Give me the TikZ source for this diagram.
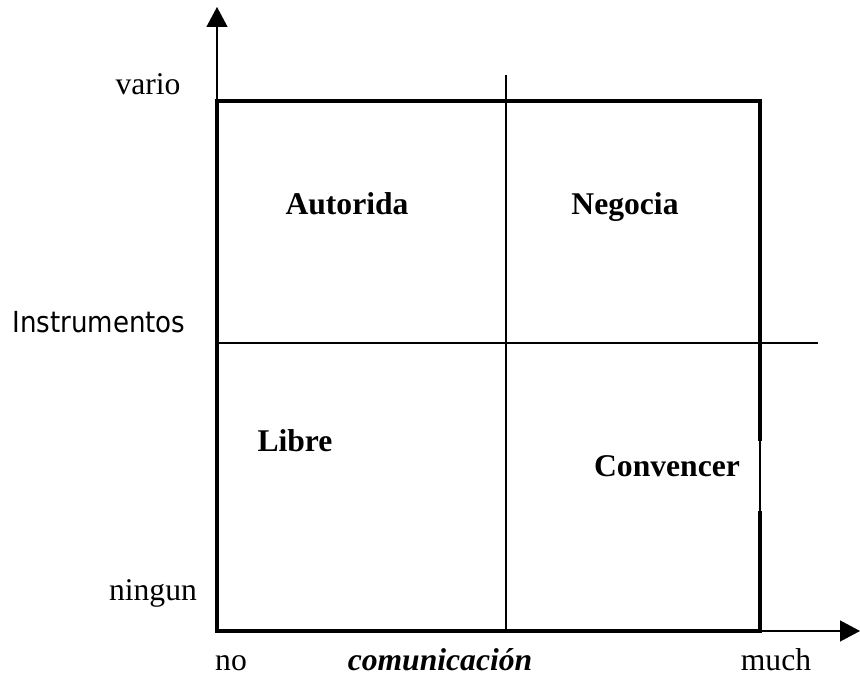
\documentclass[tikz,border=0pt]{standalone}
\usepackage{fontspec}
\setmainfont{Liberation Serif}
\newfontfamily\labelfont{DejaVu Sans Condensed}
\usetikzlibrary{arrows.meta,positioning}

\begin{document}
\begin{tikzpicture}[
    x=0.02cm, y=-0.02cm,
    axis/.style={line width=0.8pt, -{Triangle[length=0.4cm, width=0.42cm]}},
    frame/.style={line width=1.8pt, line cap=rect},
    divider/.style={line width=0.8pt},
    quadrant/.style={anchor=base, font=\bfseries\fontsize{18}{20}\selectfont},
    scale label/.style={anchor=base, font=\fontsize{18}{20}\selectfont},
    axis title/.style={anchor=base west, font=\labelfont\fontsize{16.5}{18}\selectfont}
]
\useasboundingbox (0,0) rectangle (860,678);
% Corners of the matrix
\coordinate (origin) at (217,631);
\coordinate (top left) at (217,101);
\coordinate (top right) at (760,101);
\coordinate (bottom right) at (760,631);
\coordinate (gap top) at (760,439);
\coordinate (gap bottom) at (760,513);
% Axis ends
\coordinate (y end) at (217,7);
\coordinate (x end) at (860,631);
\coordinate (mid top) at (506,75);
\coordinate (mid bottom) at (506,631);
\coordinate (mid left) at (217,343);
\coordinate (mid right) at (818,343);
% Axes
\draw[axis] (origin) -- (y end);
\draw[axis] (origin) -- (x end);
% Frame
\draw[frame] (gap top) -- (top right) -- (top left) -- (origin) -- (bottom right) -- (gap bottom);
\draw[divider] (gap top) -- (gap bottom);
% Dividers
\draw[divider] (mid top) -- (mid bottom);
\draw[divider] (mid left) -- (mid right);
% Quadrants
\node[quadrant] (autoridad) at (347,215) {Autorida};
\node[quadrant] (negocia) at (625,215) {Negocia};
\node[quadrant] (libre) at (295,452) {Libre};
\node[quadrant] (convencer) at (667,477) {Convencer};
% Scale labels
\node[scale label] (vario) at (148,95) {vario};
\node[scale label] (ningun) at (153,601) {ningun};
\node[scale label] (no) at (231,671) {no};
\node[scale label] (much) at (776,671) {much};
\node[scale label, font=\bfseries\itshape\fontsize{18}{20}\selectfont] (comunicacion) at (440,671) {comunicación};
\node[axis title, inner sep=0pt] (instrumentos) at (12,333) {Instrumentos};
\end{tikzpicture}
\end{document}
